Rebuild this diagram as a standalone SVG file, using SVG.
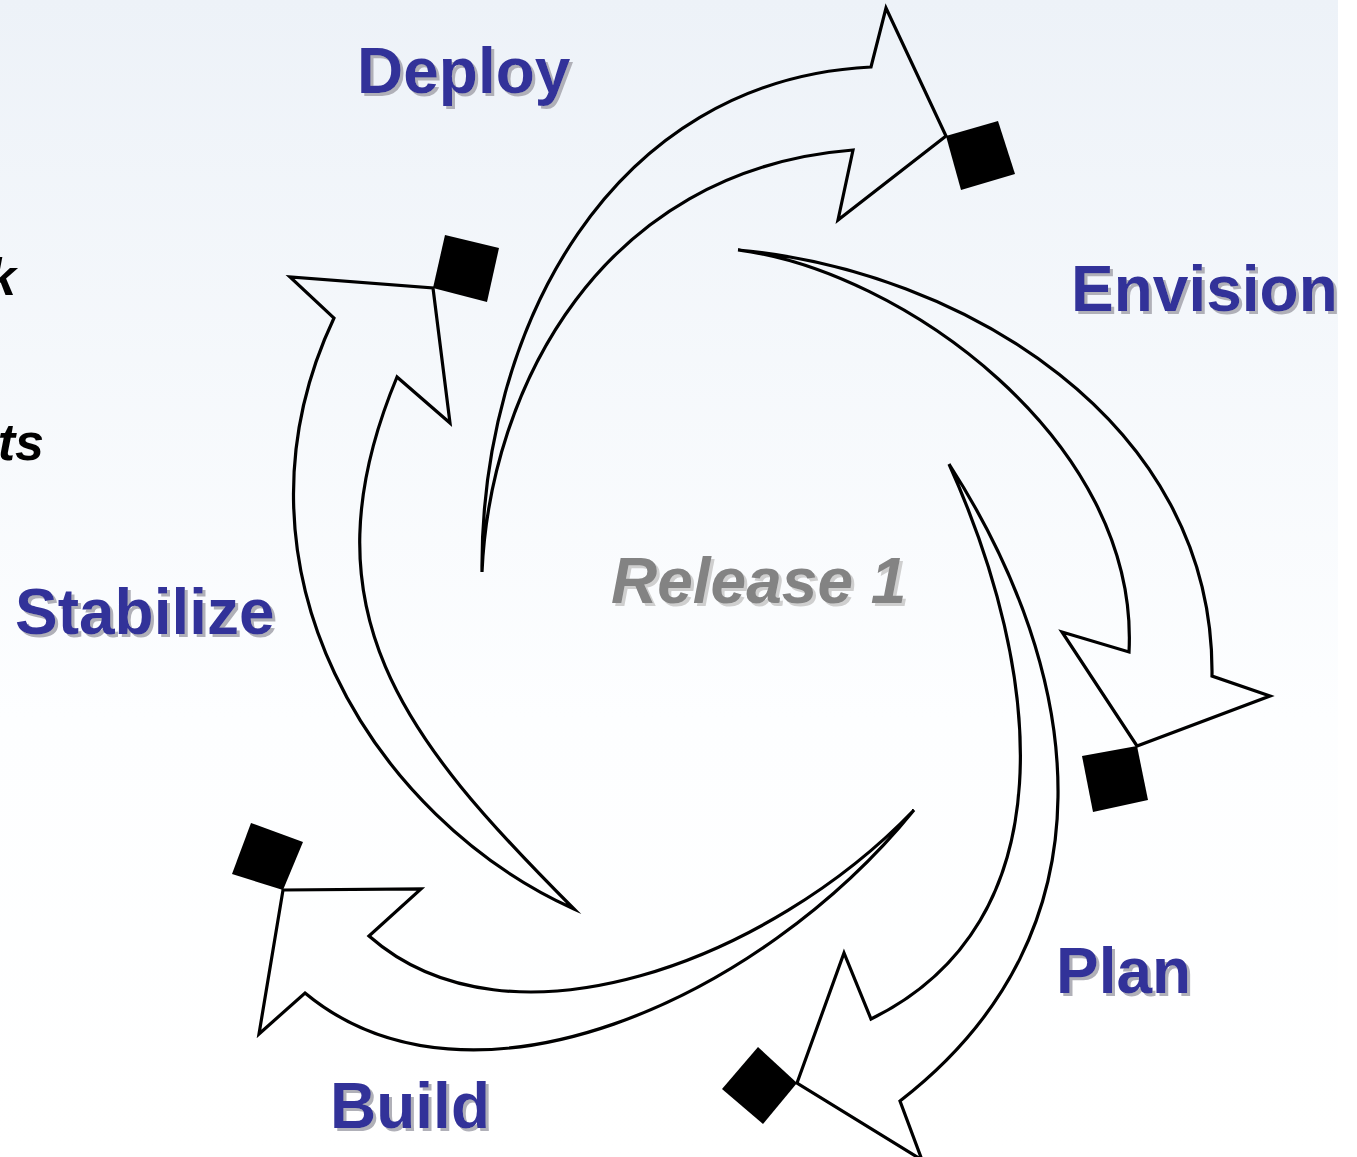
<svg xmlns="http://www.w3.org/2000/svg" width="1357" height="1157" viewBox="0 0 1357 1157">
<defs>
<linearGradient id="bg" x1="0" y1="0" x2="0" y2="1157" gradientUnits="userSpaceOnUse">
<stop offset="0" stop-color="#EDF2F8"/>
<stop offset="0.62" stop-color="#FDFEFF"/>
<stop offset="1" stop-color="#FFFFFF"/>
</linearGradient>
<filter id="shBlue" x="-5%" y="-10%" width="115%" height="140%">
<feOffset in="SourceAlpha" dx="3" dy="3" result="o"/>
<feFlood flood-color="#B0B0B8"/>
<feComposite in2="o" operator="in" result="s"/>
<feMerge><feMergeNode in="s"/><feMergeNode in="SourceGraphic"/></feMerge>
</filter>
<filter id="shGray" x="-5%" y="-10%" width="115%" height="140%">
<feOffset in="SourceAlpha" dx="3" dy="3" result="o"/>
<feFlood flood-color="#CFCFCF"/>
<feComposite in2="o" operator="in" result="s"/>
<feMerge><feMergeNode in="s"/><feMergeNode in="SourceGraphic"/></feMerge>
</filter>
</defs>
<style>
.arrow{fill:none;stroke:#000;stroke-width:3.2;stroke-linejoin:miter;stroke-miterlimit:10}
.ms{fill:#000;stroke:none}
.lbl{font-family:"Liberation Sans",Arial,sans-serif;font-weight:bold;font-size:64px;fill:#333399;filter:url(#shBlue)}
.rel{font-family:"Liberation Sans",Arial,sans-serif;font-weight:bold;font-style:italic;font-size:64px;fill:#838383;filter:url(#shGray)}
.side{font-family:"Liberation Sans",Arial,sans-serif;font-weight:bold;font-style:italic;font-size:52px;fill:#000}
</style>
<rect x="0" y="0" width="1338" height="1157" fill="url(#bg)"/>
<rect x="1338" y="0" width="19" height="1157" fill="#FFFFFF"/>

<text class="side" x="16" y="295" text-anchor="end">k</text>
<text class="side" x="44" y="460" text-anchor="end">ts</text>

<g id="connectors"></g>

<g id="deploy">
<path class="arrow" d="M482,572 C480,330 610,80 871,67 L886,8 L946,136 L838,220 L853,150 C600,170 490,390 482,572 Z"/>
<polygon class="ms" points="946,136 998,121 1015,174 961,190"/>
<text class="lbl" x="357" y="93">Deploy</text>
</g>

<g id="envision">
<path class="arrow" d="M738,250 C960,270 1215,420 1212,676 L1270,696 L1137,746 L1062,632 L1129,652 C1140,440 900,270 738,250 Z"/>
<polygon class="ms" points="1082,756 1137,746 1148,800 1093,812"/>
<text class="lbl" x="1071" y="311">Envision</text>
</g>

<g id="plan">
<path class="arrow" d="M949,464 C1084,674 1121,930 900,1101 L922,1160 L797,1083 L844,953 L871,1019 C1069,922 1043,673 949,464 Z"/>
<polygon class="ms" points="797,1083 758,1047 722,1089 763,1124"/>
<text class="lbl" x="1056" y="993">Plan</text>
</g>

<g id="build">
<path class="arrow" d="M914,810 C760,1000 470,1130 305,993 L259,1034 L283,890 L421,889 L369,936 C510,1060 770,960 914,810 Z"/>
<polygon class="ms" points="283,890 232,874 251,823 303,842"/>
<text class="lbl" x="330" y="1128">Build</text>
</g>

<g id="stabilize">
<path class="arrow" d="M574,909 C374,819 216,568 334,318 L290,277 L433,288 L450,423 L397,377 C300,610 404,739 574,909 Z"/>
<polygon class="ms" points="433,288 445,235 499,248 487,302"/>
<text class="lbl" x="15" y="634">Stabilize</text>
</g>

<g id="release">
<text class="rel" x="611" y="603">Release 1</text>
</g>
</svg>
